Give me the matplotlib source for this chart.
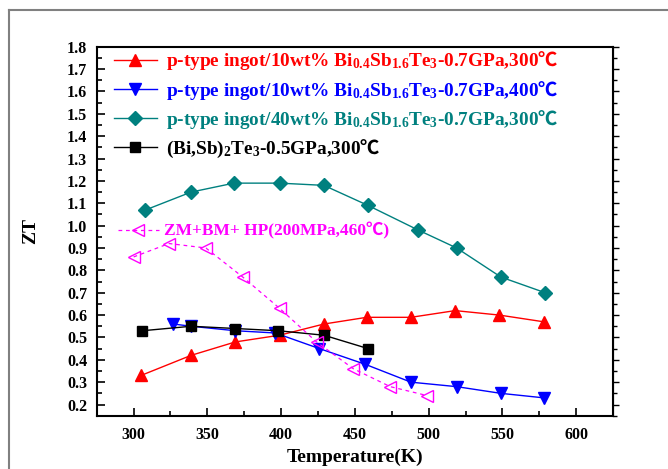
import matplotlib
matplotlib.use("Agg")
import matplotlib.pyplot as plt
from matplotlib.lines import Line2D
from matplotlib.ticker import MultipleLocator

plt.rcParams["font.family"] = ["Liberation Serif", "Noto Sans CJK SC", "DejaVu Sans"]
plt.rcParams["font.weight"] = "bold"
plt.rcParams["mathtext.fontset"] = "custom"
plt.rcParams["mathtext.rm"] = "Liberation Serif:bold"
plt.rcParams["mathtext.sf"] = "Noto Sans CJK SC:weight=light"
plt.rcParams["mathtext.default"] = "rm"

# ---- Data ----
T_red = [305, 339, 369, 399, 429, 458, 488, 518, 548, 578]
ZT_red = [0.33, 0.42, 0.48, 0.51, 0.56, 0.59, 0.59, 0.62, 0.60, 0.57]

T_blue = [327, 339, 369, 396, 426, 457, 488, 519, 549, 578]
ZT_blue = [0.56, 0.55, 0.53, 0.52, 0.45, 0.38, 0.30, 0.28, 0.25, 0.23]

T_teal = [308, 339, 368, 399, 429, 459, 493, 519, 549, 579]
ZT_teal = [1.07, 1.15, 1.19, 1.19, 1.18, 1.09, 0.98, 0.90, 0.77, 0.70]

T_black = [306, 339, 369, 398, 429, 459]
ZT_black = [0.53, 0.55, 0.54, 0.53, 0.51, 0.45]

T_mag = [300, 324, 349, 374, 399, 424, 449, 474, 499]
ZT_mag = [0.86, 0.92, 0.90, 0.77, 0.63, 0.48, 0.36, 0.28, 0.24]

DEG = "$\\mathsf{\u2103}$"
LABELS = [
    "p-type ingot/10wt% Bi$_{0.4}$Sb$_{1.6}$Te$_{3}$-0.7GPa,300" + DEG,
    "p-type ingot/10wt% Bi$_{0.4}$Sb$_{1.6}$Te$_{3}$-0.7GPa,400" + DEG,
    "p-type ingot/40wt% Bi$_{0.4}$Sb$_{1.6}$Te$_{3}$-0.7GPa,300" + DEG,
    "(Bi,Sb)$_{2}$Te$_{3}$-0.5GPa,300" + DEG,
]
LABEL_MAG = "ZM+BM+ HP(200MPa,460\u2103)"

RED, BLUE, TEAL, MAG = "#ff0000", "#0000ff", "#00807f", "#ff00ff"

fig = plt.figure(figsize=(6.68, 4.69), dpi=100)
ax = fig.add_axes([0.1448, 0.1136, 0.7729, 0.7868])

l1, = ax.plot(T_red, ZT_red, color=RED, lw=1, marker="^", ms=9)
l2, = ax.plot(T_blue, ZT_blue, color=BLUE, lw=1, marker="v", ms=9)
l3, = ax.plot(T_teal, ZT_teal, color=TEAL, lw=1, marker="D", ms=7)
l4, = ax.plot(T_black, ZT_black, color="black", lw=1, marker="s", ms=7)
l5, = ax.plot(T_mag, ZT_mag, color=MAG, lw=0.9, ls=(0, (3, 3)), marker="<",
              ms=9, mfc="none", mec=MAG)

ax.set_xlim(275, 625)
ax.set_ylim(0.15, 1.8)
ax.xaxis.set_major_locator(MultipleLocator(50))
ax.xaxis.set_minor_locator(MultipleLocator(25))
ax.yaxis.set_major_locator(MultipleLocator(0.1))
ax.yaxis.set_minor_locator(MultipleLocator(0.05))
ax.tick_params(which="both", direction="in", labelsize=11.5, width=1.2)
ax.tick_params(which="major", length=6)
ax.tick_params(which="minor", length=3.5)
ax.tick_params(axis="x", pad=8)
ax.tick_params(axis="y", pad=7)
for s in ax.spines.values():
    s.set_linewidth(1.5)

sec = ax.secondary_yaxis("right")
sec.yaxis.set_major_locator(MultipleLocator(0.1))
sec.yaxis.set_minor_locator(MultipleLocator(0.05))
sec.tick_params(which="both", direction="out", labelright=False, width=1)
sec.tick_params(which="major", length=4)
sec.tick_params(which="minor", length=3)

ax.set_xlabel("Temperature(K)", fontsize=14, fontweight="bold", labelpad=4)
ax.set_ylabel("ZT", fontsize=14, fontweight="bold", labelpad=20)

leg = ax.legend([l1, l2, l3, l4], LABELS, loc="upper left",
                bbox_to_anchor=(0.0, 1.04), frameon=False, fontsize=13.9,
                handlelength=2.2, handletextpad=0.5, labelspacing=0.33,
                labelcolor=[RED, BLUE, TEAL, "black"])
ax.add_artist(leg)
ax.legend([l5], [LABEL_MAG], loc="center left", bbox_to_anchor=(0.01, 0.50),
          frameon=False, fontsize=12.5, handlelength=2.4, handletextpad=0.3,
          labelcolor=[MAG])

# gray frame around the picture
fig.add_artist(Line2D([0.014, 0.014], [0.0, 0.979], color="#808080", lw=1.5,
                      transform=fig.transFigure))
fig.add_artist(Line2D([0.014, 1.0], [0.979, 0.979], color="#808080", lw=1.5,
                      transform=fig.transFigure))

fig.savefig("out.png", dpi=100)
